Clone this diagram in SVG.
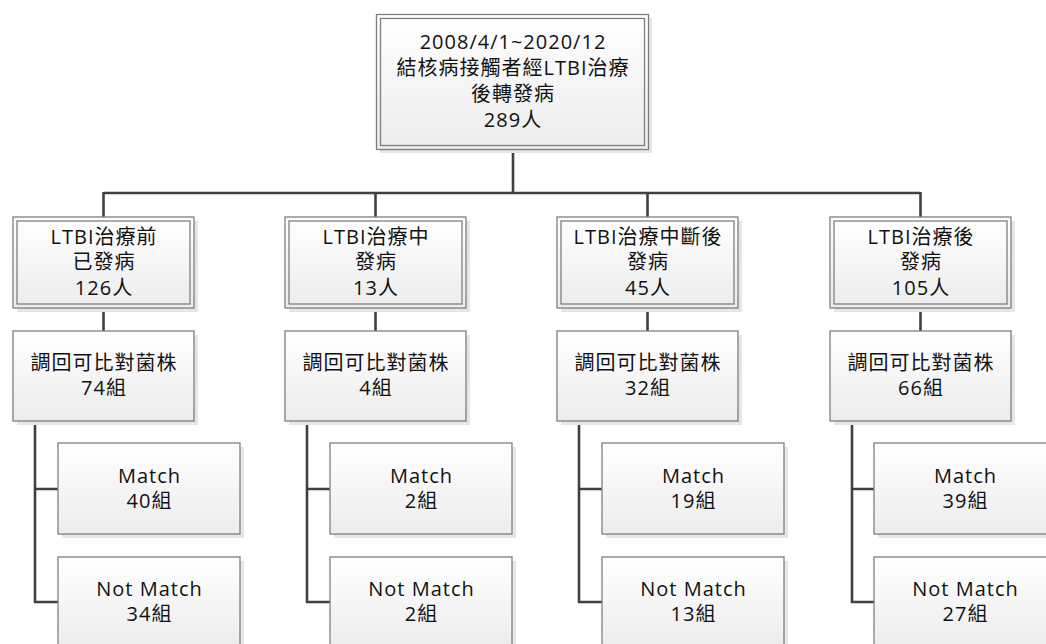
<svg xmlns="http://www.w3.org/2000/svg" width="1046" height="644" viewBox="0 0 1046 644">
<defs>
<linearGradient id="g" x1="0" y1="0" x2="0" y2="1">
<stop offset="0" stop-color="#ffffff"/>
<stop offset="1" stop-color="#ececec"/>
</linearGradient>
<style>
.sh{fill:#e6e6e6}
.bx{fill:url(#g);stroke:#7f7f7f;stroke-width:1.3}
.in{fill:none;stroke:#7f7f7f;stroke-width:1.3}
.t{font-family:"Segoe UI","Open Sans","Noto Sans","Noto Sans CJK TC",sans-serif;font-size:20px;letter-spacing:1px;fill:#111;text-anchor:middle}
.c{fill:none;stroke:#404040;stroke-width:2.6}
</style>
</defs>
<rect width="1046" height="644" fill="#ffffff"/>
<g id="connectors">
<path class="c" d="M513,149V193M103.5,193H920.5M103.5,192V217M375.5,192V217M647.5,192V217M920.5,192V217"/>
<path class="c" d="M103.5,308V331M375.5,308V331M647.5,308V331M920.5,308V331"/>
<path class="c" d="M35,421V602H58M35,489H58M307,421V602H330M307,489H330M579,421V602H602M579,489H602M852,421V602H874M852,489H874"/>
</g>
<g id="root">
<rect class="sh" x="380" y="18" width="272" height="135"/>
<rect class="bx" x="376.5" y="14.5" width="272" height="135"/>
<rect class="in" x="380.5" y="18.5" width="264" height="127"/>
<text class="t" x="513" y="49">2008/4/1~2020/12</text>
<text class="t" x="513" y="75">結核病接觸者經LTBI治療</text>
<text class="t" x="513" y="101">後轉發病</text>
<text class="t" x="513" y="127">289人</text>
</g>
<g id="a1">
<rect class="sh" x="17" y="221" width="181" height="91"/>
<rect class="bx" x="13" y="217" width="181" height="91"/>
<rect class="in" x="17" y="221" width="173" height="83"/>
<text class="t" x="104" y="244">LTBI治療前</text>
<text class="t" x="104" y="269">已發病</text>
<text class="t" x="104" y="295">126人</text>
</g>
<g id="a2">
<rect class="sh" x="289" y="221" width="181" height="91"/>
<rect class="bx" x="285" y="217" width="181" height="91"/>
<rect class="in" x="289" y="221" width="173" height="83"/>
<text class="t" x="376" y="244">LTBI治療中</text>
<text class="t" x="376" y="269">發病</text>
<text class="t" x="376" y="295">13人</text>
</g>
<g id="a3">
<rect class="sh" x="561" y="221" width="181" height="91"/>
<rect class="bx" x="557" y="217" width="181" height="91"/>
<rect class="in" x="561" y="221" width="173" height="83"/>
<text class="t" x="648" y="244">LTBI治療中斷後</text>
<text class="t" x="648" y="269">發病</text>
<text class="t" x="648" y="295">45人</text>
</g>
<g id="a4">
<rect class="sh" x="834" y="221" width="181" height="91"/>
<rect class="bx" x="830" y="217" width="181" height="91"/>
<rect class="in" x="834" y="221" width="173" height="83"/>
<text class="t" x="921" y="244">LTBI治療後</text>
<text class="t" x="921" y="269">發病</text>
<text class="t" x="921" y="295">105人</text>
</g>
<g id="b1">
<rect class="sh" x="17" y="335" width="181" height="90"/>
<rect class="bx" x="13" y="331" width="181" height="90"/>
<text class="t" x="104" y="370">調回可比對菌株</text>
<text class="t" x="104" y="395">74組</text>
</g>
<g id="b2">
<rect class="sh" x="289" y="335" width="181" height="90"/>
<rect class="bx" x="285" y="331" width="181" height="90"/>
<text class="t" x="376" y="370">調回可比對菌株</text>
<text class="t" x="376" y="395">4組</text>
</g>
<g id="b3">
<rect class="sh" x="561" y="335" width="181" height="90"/>
<rect class="bx" x="557" y="331" width="181" height="90"/>
<text class="t" x="648" y="370">調回可比對菌株</text>
<text class="t" x="648" y="395">32組</text>
</g>
<g id="b4">
<rect class="sh" x="834" y="335" width="181" height="90"/>
<rect class="bx" x="830" y="331" width="181" height="90"/>
<text class="t" x="921" y="370">調回可比對菌株</text>
<text class="t" x="921" y="395">66組</text>
</g>
<g id="m1">
<rect class="sh" x="62" y="447" width="182" height="91"/>
<rect class="bx" x="58" y="443" width="182" height="91"/>
<text class="t" x="149.5" y="483">Match</text>
<text class="t" x="149.5" y="508">40組</text>
</g>
<g id="n1">
<rect class="sh" x="62" y="561" width="182" height="91"/>
<rect class="bx" x="58" y="557" width="182" height="91"/>
<text class="t" x="149.5" y="596">Not Match</text>
<text class="t" x="149.5" y="621">34組</text>
</g>
<g id="m2">
<rect class="sh" x="334" y="447" width="182" height="91"/>
<rect class="bx" x="330" y="443" width="182" height="91"/>
<text class="t" x="421.5" y="483">Match</text>
<text class="t" x="421.5" y="508">2組</text>
</g>
<g id="n2">
<rect class="sh" x="334" y="561" width="182" height="91"/>
<rect class="bx" x="330" y="557" width="182" height="91"/>
<text class="t" x="421.5" y="596">Not Match</text>
<text class="t" x="421.5" y="621">2組</text>
</g>
<g id="m3">
<rect class="sh" x="606" y="447" width="182" height="91"/>
<rect class="bx" x="602" y="443" width="182" height="91"/>
<text class="t" x="693.5" y="483">Match</text>
<text class="t" x="693.5" y="508">19組</text>
</g>
<g id="n3">
<rect class="sh" x="606" y="561" width="182" height="91"/>
<rect class="bx" x="602" y="557" width="182" height="91"/>
<text class="t" x="693.5" y="596">Not Match</text>
<text class="t" x="693.5" y="621">13組</text>
</g>
<g id="m4">
<rect class="sh" x="878" y="447" width="182" height="91"/>
<rect class="bx" x="874" y="443" width="182" height="91"/>
<text class="t" x="965.5" y="483">Match</text>
<text class="t" x="965.5" y="508">39組</text>
</g>
<g id="n4">
<rect class="sh" x="878" y="561" width="182" height="91"/>
<rect class="bx" x="874" y="557" width="182" height="91"/>
<text class="t" x="965.5" y="596">Not Match</text>
<text class="t" x="965.5" y="621">27組</text>
</g>
</svg>
